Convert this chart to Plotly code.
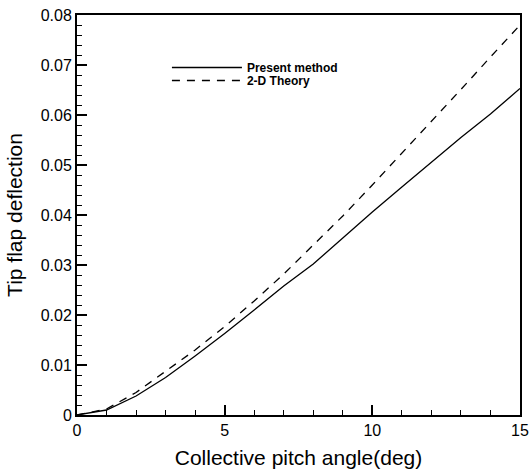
import plotly.graph_objects as go

pitch = [0, 1, 2, 3, 4, 5, 6, 7, 8, 9, 10, 11, 12, 13, 14, 15]
present = [0, 0.0010, 0.0038, 0.0075, 0.0118, 0.0163, 0.0210, 0.0258, 0.0302,
           0.0354, 0.0406, 0.0456, 0.0506, 0.0555, 0.0602, 0.0653]
theory = [0, 0.0012, 0.0045, 0.0087, 0.0130, 0.0177, 0.0228, 0.0282, 0.0339,
          0.0398, 0.0460, 0.0523, 0.0587, 0.0651, 0.0716, 0.0780]
x_major = [0, 5, 10, 15]
y_major = [0, 0.01, 0.02, 0.03, 0.04, 0.05, 0.06, 0.07, 0.08]
x_minor_step = 1
y_minor_step = 0.002

fig = go.Figure()
fig.add_trace(go.Scatter(x=pitch, y=present, mode="lines", name="Present method",
                         line=dict(color="black", width=1.3), legend="legend"))
fig.add_trace(go.Scatter(x=pitch, y=theory, mode="lines", name="2-D Theory",
                         line=dict(color="black", width=1.3, dash="8px,7px"),
                         legend="legend2"))

font = "Liberation Sans, Arial, sans-serif"
axis_common = dict(
    showgrid=False, zeroline=False, showline=True, linecolor="black", linewidth=2,
    mirror=True, ticks="inside", ticklen=10, tickwidth=2, tickcolor="black",
    automargin=False, tickfont=dict(family=font, size=16, color="black"),
)
fig.update_xaxes(range=[0, 15], tickmode="array", tickvals=x_major,
                 title=dict(text="Collective pitch angle(deg)",
                            font=dict(family=font, size=21, color="black"), standoff=12),
                 minor=dict(ticks="inside", ticklen=5, tickwidth=1, tickcolor="black",
                            tickmode="linear", tick0=0, dtick=x_minor_step),
                 **axis_common)
fig.update_yaxes(range=[0, 0.08], tickmode="array", tickvals=y_major,
                 title=dict(text="Tip flap deflection",
                            font=dict(family=font, size=21, color="black"), standoff=12),
                 minor=dict(ticks="inside", ticklen=5, tickwidth=1, tickcolor="black",
                            tickmode="linear", tick0=0, dtick=y_minor_step),
                 **axis_common)

leg_common = dict(xanchor="left", yanchor="top",
                  font=dict(family=font, size=12, color="black", weight="bold"),
                  bgcolor="rgba(0,0,0,0)", itemwidth=70)
fig.update_layout(
    width=529, height=469,
    margin=dict(l=77, r=9, t=15, b=54),
    plot_bgcolor="white", paper_bgcolor="white",
    legend=dict(x=0.203, y=0.905, **leg_common),
    legend2=dict(x=0.203, y=0.8725, **leg_common),
    showlegend=True,
)
fig.write_html("out.html")
